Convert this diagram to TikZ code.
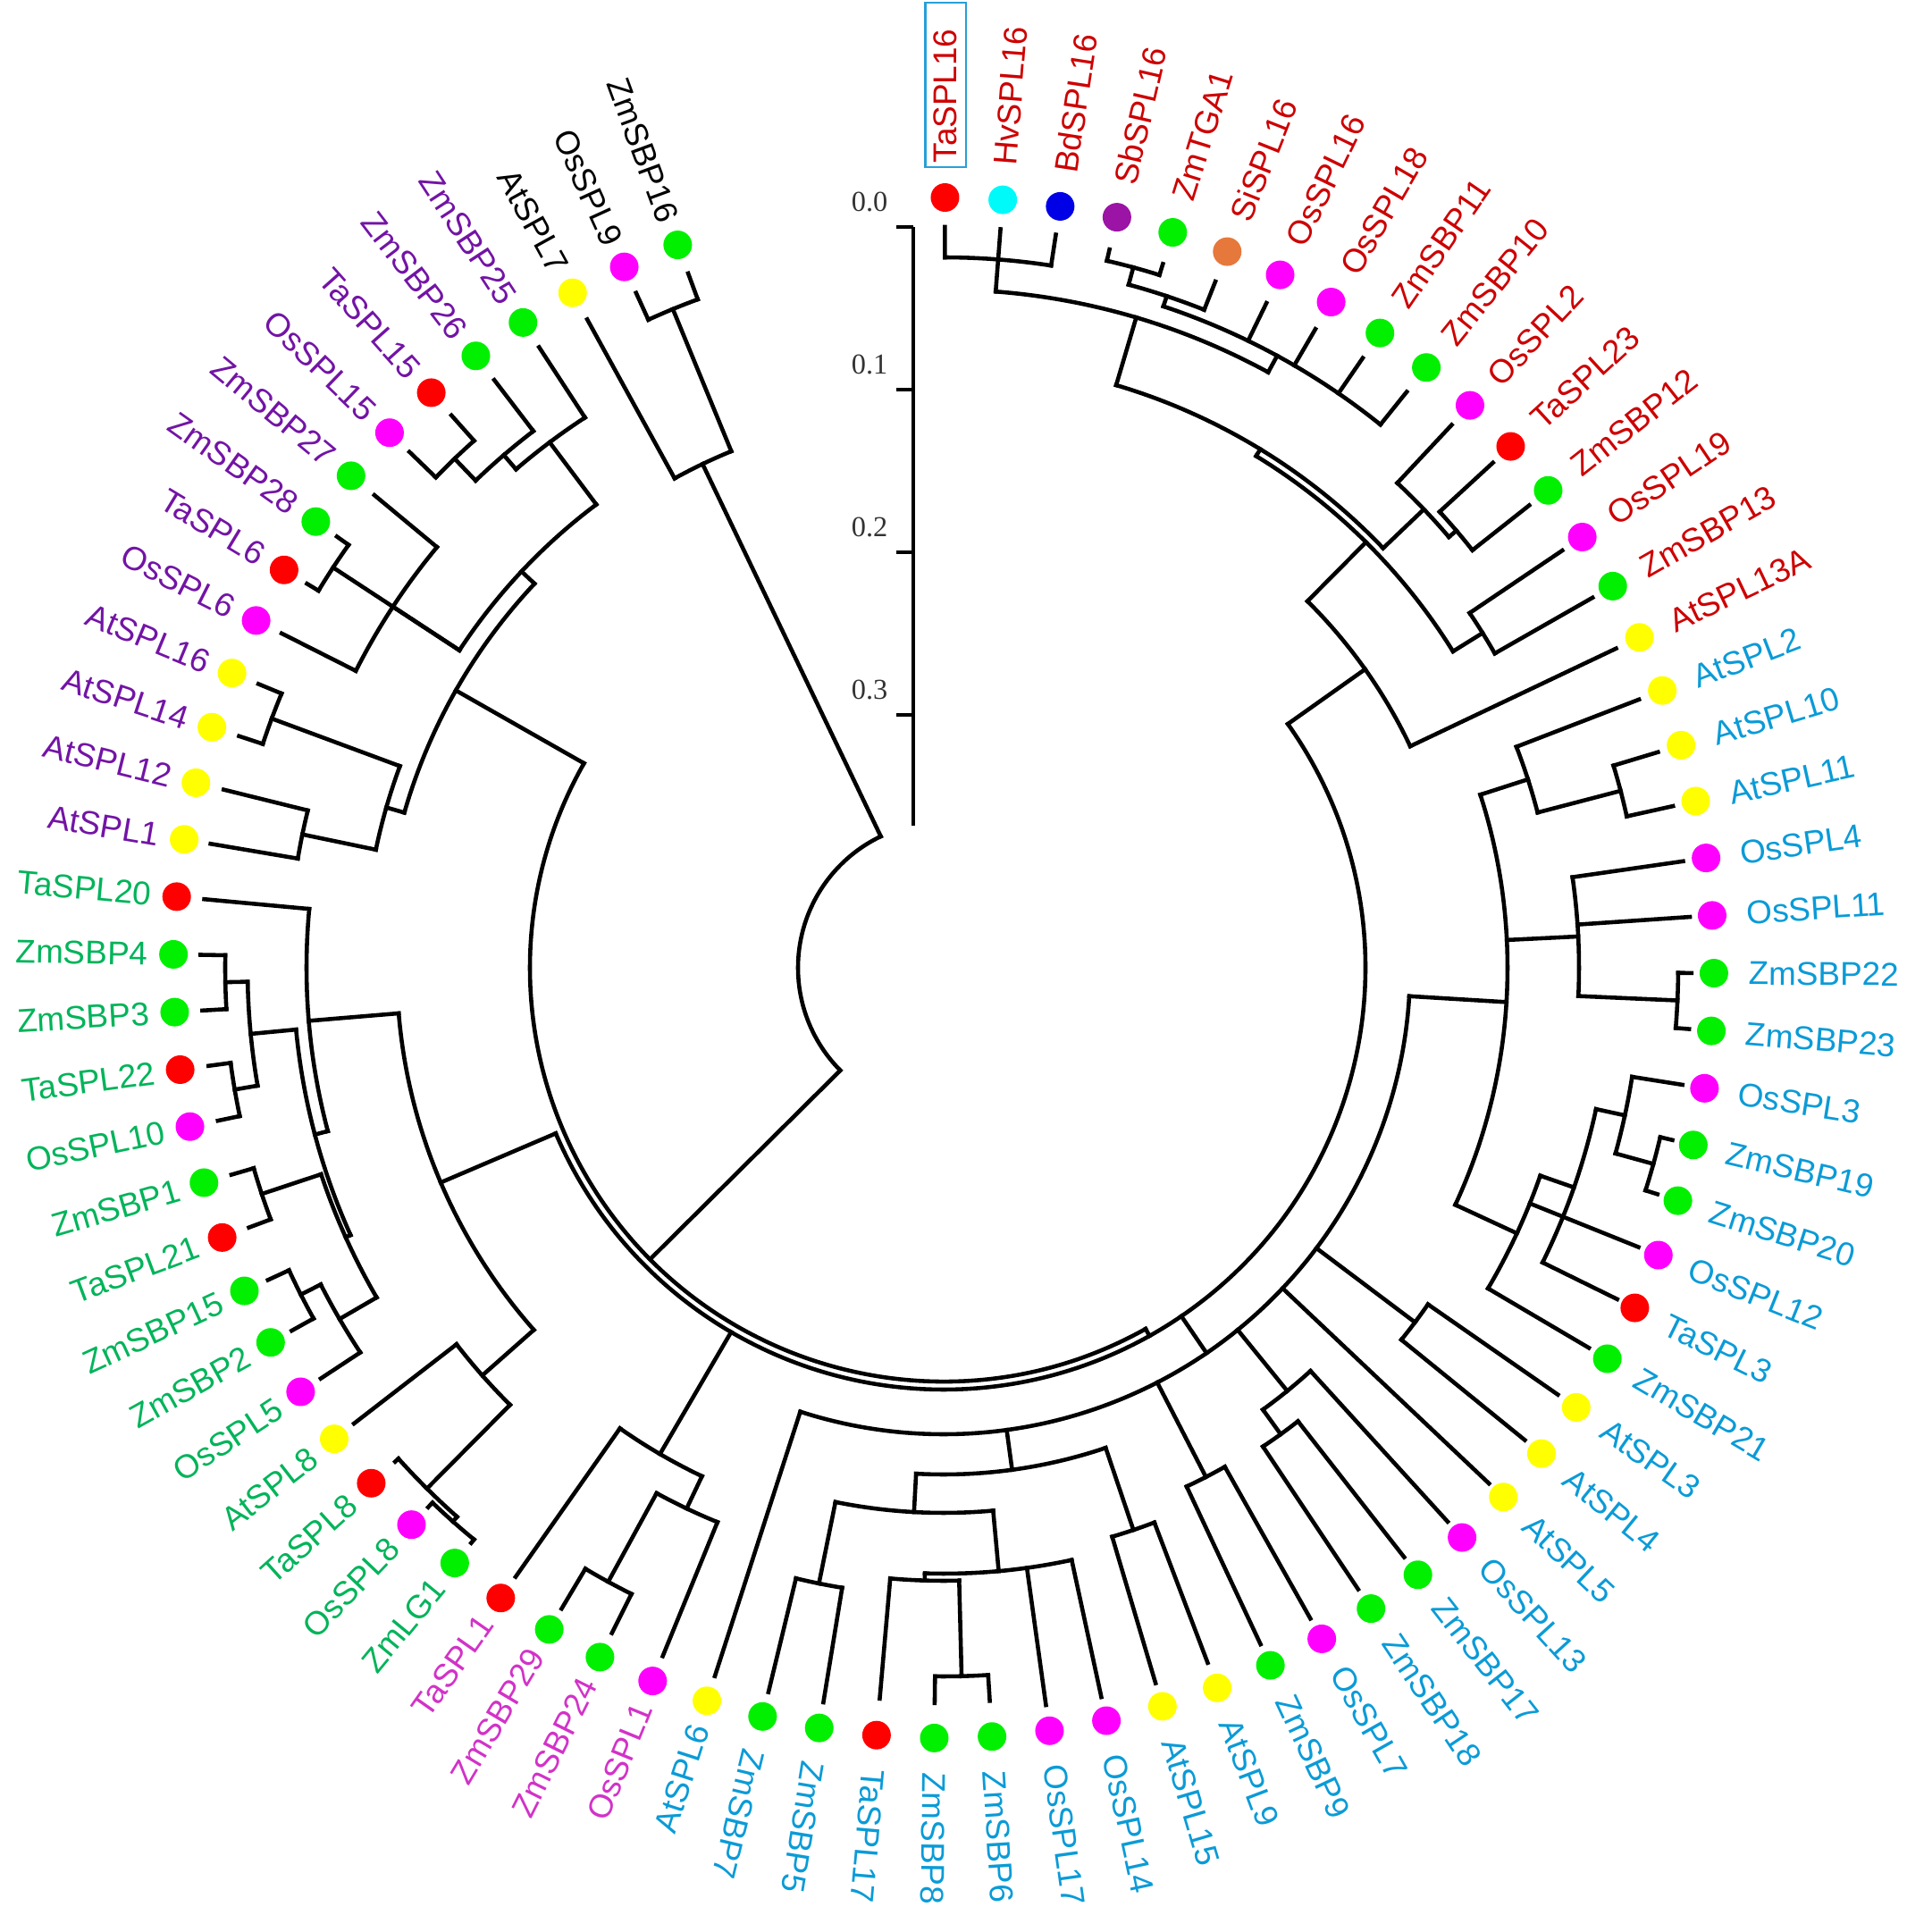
\documentclass[tikz,border=0pt]{standalone}
\usepackage{fontspec}
\setmainfont{Liberation Sans}
\newfontfamily\scalefnt{Liberation Serif}
\definecolor{cRed}{RGB}{255,0,0}
\definecolor{cCyan}{RGB}{0,250,250}
\definecolor{cBlue}{RGB}{0,0,230}
\definecolor{cPurp}{RGB}{155,20,165}
\definecolor{cGreen}{RGB}{0,240,0}
\definecolor{cOrange}{RGB}{230,120,60}
\definecolor{cMag}{RGB}{255,0,255}
\definecolor{cYel}{RGB}{255,255,0}
\definecolor{tRed}{RGB}{205,0,0}
\definecolor{tBlue}{RGB}{10,155,215}
\definecolor{tPink}{RGB}{210,50,200}
\definecolor{tGreen}{RGB}{0,180,90}
\definecolor{tPurp}{RGB}{115,20,165}
\definecolor{boxBlue}{RGB}{40,160,215}
\tikzset{
  br/.style={line width=1.3pt,line cap=rect,black},
  lab/.style={font=\fontsize{10.5}{12}\selectfont,inner sep=0pt},
  barline/.style={line width=1.4pt},
  scl/.style={font=\scalefnt\fontsize{9.2}{11}\selectfont,text=black!80,inner sep=0pt}
}
% leaf: name, index, tip radius, dot colour, label colour
\newcommand\TreeLeaf[5]{%
  \pgfmathsetmacro\LfA{89.9-4.3*(#2-1)}%
  \expandafter\xdef\csname TA#1\endcsname{\LfA}%
  \expandafter\xdef\csname TR#1\endcsname{#3}%
  \fill[#4] (\LfA:8.62) circle[radius=0.16];
  \ifdim\LfA pt<-105pt
    \pgfmathsetmacro\LfB{\LfA+180}%
    \node[lab,text=#5,rotate=\LfB,anchor=east] (L#2) at (\LfA:8.90) {#1};
  \else
    \node[lab,text=#5,rotate=\LfA,anchor=west] (L#2) at (\LfA:9.00) {#1};
  \fi
}
% internal node: name, radius, children (first and last are the extremes)
\newcommand\TreeNode[3]{%
  \gdef\TFirst{}%
  \foreach \cc in {#3}{%
    \edef\chA{\csname TA\cc\endcsname}%
    \edef\chR{\csname TR\cc\endcsname}%
    \ifx\TFirst\empty \xdef\TFirst{\cc}\fi
    \xdef\TLast{\cc}%
    \draw[br] (\chA:\chR) -- (\chA:#2);
  }%
  \edef\TFa{\csname TA\TFirst\endcsname}%
  \edef\TLa{\csname TA\TLast\endcsname}%
  \draw[br] (\TFa:#2) arc[start angle=\TFa, end angle=\TLa, radius=#2cm];
  \pgfmathsetmacro\TNa{(\TFa+\TLa)/2}%
  \expandafter\xdef\csname TA#1\endcsname{\TNa}%
  \expandafter\xdef\csname TR#1\endcsname{#2}%
}
\begin{document}
\begin{tikzpicture}
\useasboundingbox (-10.56,-10.79) rectangle (10.77,10.83);
\fill[white] (-10.56,-10.79) rectangle (10.77,10.83);
% ---------------- leaves ----------------
\TreeLeaf{TaSPL16}{1}{8.29}{cRed}{tRed}
\TreeLeaf{HvSPL16}{2}{8.29}{cCyan}{tRed}
\TreeLeaf{BdSPL16}{3}{8.30}{cBlue}{tRed}
\TreeLeaf{SbSPL16}{4}{8.25}{cPurp}{tRed}
\TreeLeaf{ZmTGA1}{5}{8.25}{cGreen}{tRed}
\TreeLeaf{SiSPL16}{6}{8.26}{cOrange}{tRed}
\TreeLeaf{OsSPL16}{7}{8.27}{cMag}{tRed}
\TreeLeaf{OsSPL18}{8}{8.27}{cMag}{tRed}
\TreeLeaf{ZmSBP11}{9}{8.28}{cGreen}{tRed}
\TreeLeaf{ZmSBP10}{10}{8.27}{cGreen}{tRed}
\TreeLeaf{OsSPL2}{11}{8.32}{cMag}{tRed}
\TreeLeaf{TaSPL23}{12}{8.35}{cRed}{tRed}
\TreeLeaf{ZmSBP12}{13}{8.35}{cGreen}{tRed}
\TreeLeaf{OsSPL19}{14}{8.35}{cMag}{tRed}
\TreeLeaf{ZmSBP13}{15}{8.36}{cGreen}{tRed}
\TreeLeaf{AtSPL13A}{16}{8.33}{cYel}{tRed}
\TreeLeaf{AtSPL2}{17}{8.34}{cYel}{tBlue}
\TreeLeaf{AtSPL10}{18}{8.35}{cYel}{tBlue}
\TreeLeaf{AtSPL11}{19}{8.36}{cYel}{tBlue}
\TreeLeaf{OsSPL4}{20}{8.36}{cMag}{tBlue}
\TreeLeaf{OsSPL11}{21}{8.37}{cMag}{tBlue}
\TreeLeaf{ZmSBP22}{22}{8.37}{cGreen}{tBlue}
\TreeLeaf{ZmSBP23}{23}{8.37}{cGreen}{tBlue}
\TreeLeaf{OsSPL3}{24}{8.37}{cMag}{tBlue}
\TreeLeaf{ZmSBP19}{25}{8.38}{cGreen}{tBlue}
\TreeLeaf{ZmSBP20}{26}{8.38}{cGreen}{tBlue}
\TreeLeaf{OsSPL12}{27}{8.38}{cMag}{tBlue}
\TreeLeaf{TaSPL3}{28}{8.40}{cRed}{tBlue}
\TreeLeaf{ZmSBP21}{29}{8.38}{cGreen}{tBlue}
\TreeLeaf{AtSPL3}{30}{8.37}{cYel}{tBlue}
\TreeLeaf{AtSPL4}{31}{8.38}{cYel}{tBlue}
\TreeLeaf{AtSPL5}{32}{8.40}{cYel}{tBlue}
\TreeLeaf{OsSPL13}{33}{8.38}{cMag}{tBlue}
\TreeLeaf{ZmSBP17}{34}{8.37}{cGreen}{tBlue}
\TreeLeaf{ZmSBP18}{35}{8.36}{cGreen}{tBlue}
\TreeLeaf{OsSPL7}{36}{8.36}{cMag}{tBlue}
\TreeLeaf{ZmSBP9}{37}{8.36}{cGreen}{tBlue}
\TreeLeaf{AtSPL9}{38}{8.32}{cYel}{tBlue}
\TreeLeaf{AtSPL15}{39}{8.35}{cYel}{tBlue}
\TreeLeaf{OsSPL14}{40}{8.35}{cMag}{tBlue}
\TreeLeaf{OsSPL17}{41}{8.33}{cMag}{tBlue}
\TreeLeaf{ZmSBP6}{42}{8.22}{cGreen}{tBlue}
\TreeLeaf{ZmSBP8}{43}{8.23}{cGreen}{tBlue}
\TreeLeaf{TaSPL17}{44}{8.21}{cRed}{tBlue}
\TreeLeaf{ZmSBP5}{45}{8.33}{cGreen}{tBlue}
\TreeLeaf{ZmSBP7}{46}{8.34}{cGreen}{tBlue}
\TreeLeaf{AtSPL6}{47}{8.33}{cYel}{tBlue}
\TreeLeaf{OsSPL1}{48}{8.32}{cMag}{tPink}
\TreeLeaf{ZmSBP24}{49}{8.32}{cGreen}{tPink}
\TreeLeaf{ZmSBP29}{50}{8.35}{cGreen}{tPink}
\TreeLeaf{TaSPL1}{51}{8.33}{cRed}{tPink}
\TreeLeaf{ZmLG1}{52}{8.33}{cGreen}{tGreen}
\TreeLeaf{OsSPL8}{53}{8.35}{cMag}{tGreen}
\TreeLeaf{TaSPL8}{54}{8.26}{cRed}{tGreen}
\TreeLeaf{AtSPL8}{55}{8.34}{cYel}{tGreen}
\TreeLeaf{OsSPL5}{56}{8.35}{cMag}{tGreen}
\TreeLeaf{ZmSBP2}{57}{8.35}{cGreen}{tGreen}
\TreeLeaf{ZmSBP15}{58}{8.33}{cGreen}{tGreen}
\TreeLeaf{TaSPL21}{59}{8.30}{cRed}{tGreen}
\TreeLeaf{ZmSBP1}{60}{8.30}{cGreen}{tGreen}
\TreeLeaf{OsSPL10}{61}{8.30}{cMag}{tGreen}
\TreeLeaf{TaSPL22}{62}{8.30}{cRed}{tGreen}
\TreeLeaf{ZmSBP3}{63}{8.31}{cGreen}{tGreen}
\TreeLeaf{ZmSBP4}{64}{8.32}{cGreen}{tGreen}
\TreeLeaf{TaSPL20}{65}{8.31}{cRed}{tGreen}
\TreeLeaf{AtSPL1}{66}{8.32}{cYel}{tPurp}
\TreeLeaf{AtSPL12}{67}{8.30}{cYel}{tPurp}
\TreeLeaf{AtSPL14}{68}{8.30}{cYel}{tPurp}
\TreeLeaf{AtSPL16}{69}{8.30}{cYel}{tPurp}
\TreeLeaf{OsSPL6}{70}{8.30}{cMag}{tPurp}
\TreeLeaf{TaSPL6}{71}{8.32}{cRed}{tPurp}
\TreeLeaf{ZmSBP28}{72}{8.33}{cGreen}{tPurp}
\TreeLeaf{ZmSBP27}{73}{8.28}{cGreen}{tPurp}
\TreeLeaf{OsSPL15}{74}{8.31}{cMag}{tPurp}
\TreeLeaf{TaSPL15}{75}{8.28}{cRed}{tPurp}
\TreeLeaf{ZmSBP26}{76}{8.28}{cGreen}{tPurp}
\TreeLeaf{ZmSBP25}{77}{8.29}{cGreen}{tPurp}
\TreeLeaf{AtSPL7}{78}{8.28}{cYel}{black}
\TreeLeaf{OsSPL9}{79}{8.30}{cMag}{black}
\TreeLeaf{ZmSBP16}{80}{8.28}{cGreen}{black}
% box round TaSPL16
\draw[boxBlue,line width=0.8pt] (-0.205,8.96) rectangle (0.25,10.80);
% ---------------- red clade ----------------
\TreeNode{nX}{7.95}{TaSPL16,HvSPL16,BdSPL16}
\TreeNode{nSZ}{8.12}{SbSPL16,ZmTGA1}
\TreeNode{nW}{7.92}{nSZ,SiSPL16}
\TreeNode{nV}{7.80}{nW,OsSPL16,OsSPL18,ZmSBP11,ZmSBP10}
\TreeNode{nY}{7.59}{nX,nV}
\TreeNode{nNb}{7.54}{TaSPL23,ZmSBP12}
\TreeNode{nNa}{7.43}{OsSPL2,nNb}
\TreeNode{nZa}{6.80}{nY,nNa}
\TreeNode{nL}{7.10}{OsSPL19,ZmSBP13}
\TreeNode{nZo}{6.71}{nZa,nL}
\TreeNode{nK}{5.78}{nZo,AtSPL13A}
% ---------------- blue clade ----------------
\TreeNode{nJb}{7.83}{AtSPL10,AtSPL11}
\TreeNode{nJa}{6.87}{AtSPL2,nJb}
\TreeNode{nJd}{8.22}{ZmSBP22,ZmSBP23}
\TreeNode{nJc}{7.11}{OsSPL4,OsSPL11,nJd}
\TreeNode{nHd}{8.24}{ZmSBP19,ZmSBP20}
\TreeNode{nHc}{7.80}{OsSPL3,nHd}
\TreeNode{nHb}{7.47}{nHc,TaSPL3}
\TreeNode{nHa}{7.07}{nHb,OsSPL12,ZmSBP21}
\TreeNode{nJo}{6.31}{nJa,nJc,nHa}
\TreeNode{nGa}{6.60}{AtSPL3,AtSPL4}
\TreeNode{nGc}{6.44}{ZmSBP17,ZmSBP18}
\TreeNode{nGb}{6.10}{OsSPL13,nGc}
\TreeNode{nGe}{6.41}{OsSPL7,ZmSBP9}
\TreeNode{nFa}{6.64}{AtSPL9,AtSPL15}
\TreeNode{nFe}{7.93}{ZmSBP6,ZmSBP8}
\TreeNode{nFf}{6.86}{nFe,TaSPL17}
\TreeNode{nFd}{6.78}{OsSPL14,OsSPL17,nFf}
\TreeNode{nFc}{7.03}{ZmSBP5,ZmSBP7}
\TreeNode{nFb}{6.10}{nFd,nFc}
\TreeNode{nFm}{5.67}{nFa,nFb}
\TreeNode{nF}{5.22}{nJo,nGa,AtSPL5,nGb,nGe,nFm,AtSPL6}
% ---------------- pink clade ----------------
\TreeNode{nPc}{7.83}{ZmSBP24,ZmSBP29}
\TreeNode{nPb}{6.70}{OsSPL1,nPc}
\TreeNode{nPa}{6.30}{nPb,TaSPL1}
% ---------------- green clade ----------------
\TreeNode{nGN}{8.28}{ZmLG1,OsSPL8}
\TreeNode{nGM}{8.21}{nGN,TaSPL8}
\TreeNode{nGL}{6.89}{nGM,AtSPL8}
\TreeNode{nGI}{8.07}{ZmSBP2,ZmSBP15}
\TreeNode{nGJ}{7.82}{OsSPL5,nGI}
\TreeNode{nGH}{8.04}{TaSPL21,ZmSBP1}
\TreeNode{nGK}{7.34}{nGJ,nGH}
\TreeNode{nGE}{8.05}{OsSPL10,TaSPL22}
\TreeNode{nGC}{8.04}{ZmSBP3,ZmSBP4}
\TreeNode{nGD}{7.79}{nGE,nGC}
\TreeNode{nGB}{7.28}{nGK,nGD}
\TreeNode{nGA}{7.13}{nGB,TaSPL20}
\TreeNode{nGR}{6.12}{nGL,nGA}
% ---------------- purple clade ----------------
\TreeNode{nPC}{7.33}{AtSPL1,AtSPL12}
\TreeNode{nPB}{8.02}{AtSPL14,AtSPL16}
\TreeNode{nPA}{6.49}{nPC,nPB}
\TreeNode{nQT}{8.17}{TaSPL6,ZmSBP28}
\TreeNode{nQy}{7.37}{OsSPL6,ZmSBP27}
\TreeNode{nQc}{7.90}{OsSPL15,TaSPL15}
\TreeNode{nQb}{7.56}{nQc,ZmSBP26}
\TreeNode{nQa}{7.35}{nQb,ZmSBP25}
\TreeNode{nQo}{6.48}{nQy,nQT,nQa}
\TreeNode{nP}{6.28}{nPA,nQo}
% ---------------- black clade ----------------
\TreeNode{nBb}{7.97}{OsSPL9,ZmSBP16}
\TreeNode{nBa}{6.25}{AtSPL7,nBb}
% ---------------- backbone ----------------
\TreeNode{nRc}{4.72}{nK,nF,nPa,nGR}
\TreeNode{nRb}{4.63}{nRc,nP}
\TreeNode{nRoot}{1.63}{nRb,nBa}
% ---------------- scale bar ----------------
\draw[barline] (-0.34,8.29) -- (-0.34,1.59);
\foreach \yy/\tx in {8.29/0.0,6.47/0.1,4.65/0.2,2.83/0.3}{
  \draw[barline] (-0.34,\yy) -- (-0.53,\yy);
  \node[scl,anchor=east] (S\tx) at (-0.62,\yy+0.28) {\tx};
}
\end{tikzpicture}
\end{document}
